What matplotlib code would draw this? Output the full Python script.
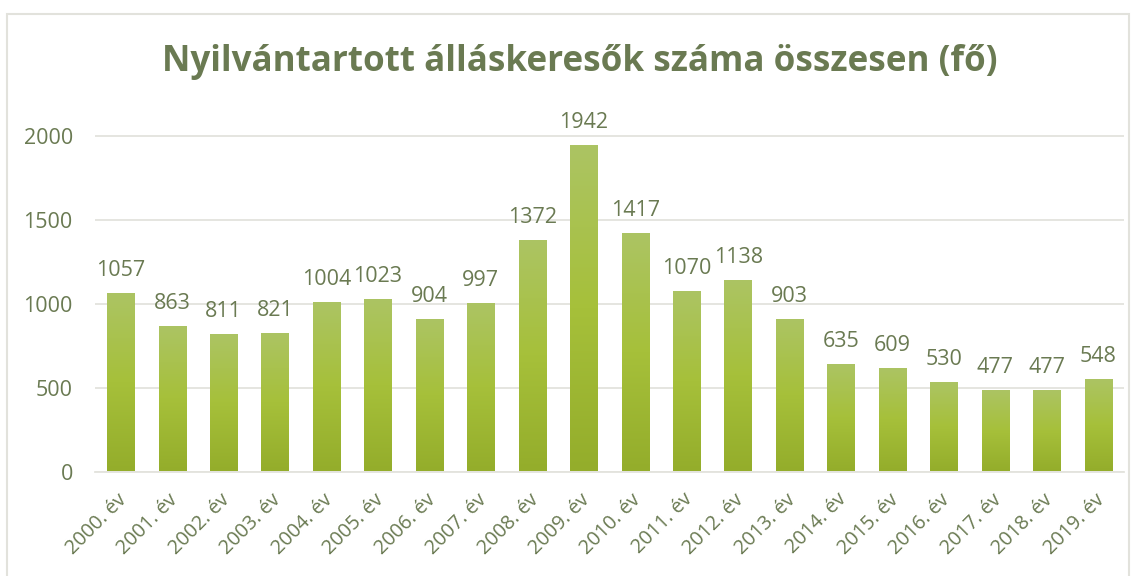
import numpy as np
import matplotlib
matplotlib.use("Agg")
import matplotlib.pyplot as plt
from matplotlib.colors import LinearSegmentedColormap
from matplotlib.patches import Rectangle
from matplotlib.transforms import ScaledTranslation

categories = ["2000. év", "2001. év", "2002. év", "2003. év", "2004. év", "2005. év",
              "2006. év", "2007. év", "2008. év", "2009. év", "2010. év", "2011. év",
              "2012. év", "2013. év", "2014. év", "2015. év", "2016. év", "2017. év",
              "2018. év", "2019. év"]
values = [1057, 863, 811, 821, 1004, 1023, 904, 997, 1372, 1942, 1417, 1070,
          1138, 903, 635, 609, 530, 477, 477, 548]
yticks = [0, 500, 1000, 1500, 2000]
title = "Nyilvántartott álláskeresők száma összesen (fő)"

plt.rcParams['font.family'] = ['Open Sans', 'DejaVu Sans']
TXT = '#6a7a52'
W, H = 1138, 576
fig = plt.figure(figsize=(W / 100, H / 100), dpi=100)

# chart border
fig.patches.append(Rectangle((7 / W, -0.05), (1129 - 7) / W, (H - 14) / H + 0.05,
                             transform=fig.transFigure, fill=False,
                             edgecolor='#e2e2dc', linewidth=1.5))

ymax = 2200
bottom_px = H - 471.5
h_px = 335.5 * ymax / 2000
ax = fig.add_axes([95 / W, bottom_px / H, (1124 - 95) / W, h_px / H])

cmap = LinearSegmentedColormap.from_list('g', ['#94ad2b', '#a6c03a', '#acc463'])
grad = np.linspace(0, 1, 256).reshape(-1, 1)
bw = 0.53
x = np.arange(len(values))
bars = ax.bar(x, values, width=bw, color='none', zorder=2)
for b in bars:
    x0, y0 = b.get_x(), b.get_y()
    ax.imshow(grad, extent=[x0, x0 + b.get_width(), y0, y0 + b.get_height()],
              origin='lower', cmap=cmap, aspect='auto', zorder=2, interpolation='bilinear')
ax.set_xlim(-0.5, len(values) - 0.5)
ax.set_ylim(0, ymax)

FS = 15.5
for xi, v in zip(x, values):
    ax.annotate(str(v), (xi, v), xytext=(0, 13), textcoords='offset points',
                ha='center', va='baseline', fontsize=FS, color=TXT)

ax.set_yticks(yticks)
ax.set_yticklabels([str(t) for t in yticks])
ax.yaxis.grid(True, color='#e3e3dd', linewidth=1.3, zorder=0)
ax.set_axisbelow(True)
ax.tick_params(axis='y', length=0, pad=16, labelsize=FS, labelcolor=TXT)
ax.set_xticks(x)
ax.set_xticklabels(categories, rotation=45, ha='right', va='center',
                   rotation_mode='anchor', fontsize=14.3, color=TXT)
ax.tick_params(axis='x', length=0, pad=16)
off = ScaledTranslation(3 / 100, -3 / 100, fig.dpi_scale_trans)
for lab in ax.get_xticklabels():
    lab.set_transform(lab.get_transform() + off)
for s in ['top', 'right', 'left']:
    ax.spines[s].set_visible(False)
ax.spines['bottom'].set_color('#e3e3dd')
ax.spines['bottom'].set_linewidth(1.3)

fig.text(580 / W, 1 - 62 / H, title, ha='center', va='center', fontsize=25.2,
         fontweight='bold', color=TXT)

fig.savefig('out.png', dpi=100)
